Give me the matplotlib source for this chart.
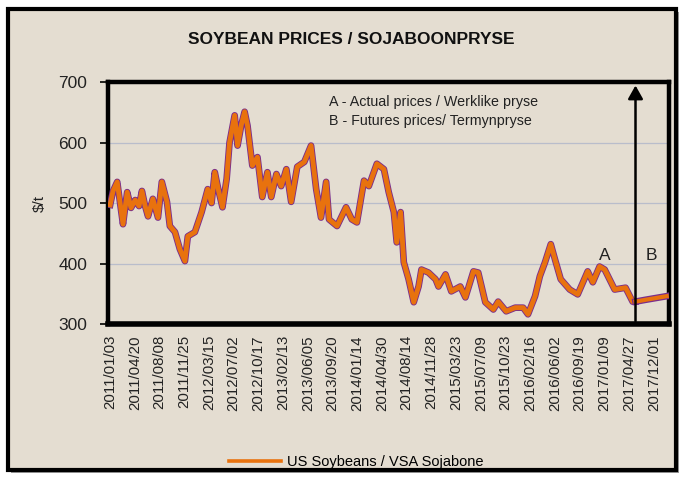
import numpy as np
import matplotlib
matplotlib.use("Agg")
import matplotlib.pyplot as plt
import matplotlib.patheffects as pe
from matplotlib.lines import Line2D
from matplotlib.patches import Rectangle

plt.rcParams["font.family"] = ["Liberation Sans", "DejaVu Sans"]

# ---------------------------------------------------------------------------
# Data (category axis: one step = one observation, 77 observations per label)
# ---------------------------------------------------------------------------
tick_labels = [
    "2011/01/03", "2011/04/20", "2011/08/08", "2011/11/25", "2012/03/15",
    "2012/07/02", "2012/10/17", "2013/02/13", "2013/06/05", "2013/09/20",
    "2014/01/14", "2014/04/30", "2014/08/14", "2014/11/28", "2015/03/23",
    "2015/07/09", "2015/10/23", "2016/02/16", "2016/06/02", "2016/09/19",
    "2017/01/09", "2017/04/27", "2017/12/01",
]
label_step = 77

# A - actual prices ($/t)
actual_obs = [
    0, 9, 22, 31, 40, 53, 65, 78, 90, 99, 109, 118, 133, 149, 161, 177,
    186, 202, 217, 233, 242, 264, 285, 304, 316, 326, 338, 350, 363, 372,
    388, 397, 409, 419, 428, 443, 459, 474, 490, 502, 518, 533, 549, 564,
    583, 605, 626, 642, 657, 673, 682, 707, 735, 753, 769, 791, 806, 831,
    853, 868, 884, 893, 905, 915, 930, 946, 961, 970, 992, 1014, 1023, 1045,
    1063, 1091, 1107, 1132, 1147, 1169, 1194, 1209, 1234, 1262, 1287, 1302,
    1324, 1339, 1355, 1373, 1386, 1404, 1432, 1457, 1488, 1504, 1525, 1541,
    1572, 1606, 1628, 1637,
]
actual_price = [
    497, 520, 535, 500, 465, 518, 492, 505, 495, 520, 495, 478, 507, 476,
    535, 502, 462, 452, 424, 404, 445, 452, 485, 523, 500, 551, 520, 493,
    540, 600, 645, 595, 630, 651, 628, 562, 576, 510, 551, 510, 548, 528,
    556, 502, 560, 568, 595, 523, 476, 535, 473, 462, 493, 473, 468, 537,
    528, 565, 556, 518, 485, 435, 485, 402, 374, 336, 362, 390, 385, 374,
    362, 382, 354, 362, 344, 387, 385, 336, 324, 337, 321, 327, 327, 316,
    346, 379, 402, 432, 407, 374, 357, 349, 387, 369, 395, 390, 357, 360,
    337, 337,
]

# B - futures prices ($/t)
futures_obs = [1637, 1668, 1734]
futures_price = [337, 340, 346]

ORANGE = "#E8720E"
PURPLE = "#7A2E8C"
BEIGE = "#E4DDD1"

# ---------------------------------------------------------------------------
fig = plt.figure(figsize=(6.85, 4.79), dpi=100)
fig.patch.set_facecolor("white")

# outer frame with drop shadow
fig.patches.append(Rectangle((0.016, 0.012), 0.975, 0.962, transform=fig.transFigure,
                             facecolor="#9A9A9A", edgecolor="none", zorder=-10))
fig.patches.append(Rectangle((0.0117, 0.0188), 0.975, 0.962, transform=fig.transFigure,
                             facecolor=BEIGE, edgecolor="black", linewidth=3.0, zorder=-9))

ax = fig.add_axes([0.158, 0.3236, 0.818, 0.505])
ax.set_facecolor("none")

line_fx = [pe.Stroke(linewidth=4.8, foreground=PURPLE), pe.Normal()]
ax.plot(actual_obs, actual_price, color=ORANGE, linewidth=3.5,
        solid_joinstyle="round", path_effects=line_fx, zorder=3)
ax.plot(futures_obs, futures_price, color=ORANGE, linewidth=3.0,
        solid_joinstyle="round", path_effects=line_fx, zorder=3)

ax.set_ylim(300, 700)
ax.set_yticks([300, 400, 500, 600, 700])
ax.set_xlim(-6, 1740)
ax.set_xticks(np.arange(len(tick_labels)) * label_step)
ax.set_xticklabels(tick_labels, rotation=90, fontsize=10.8, color="#222222")
ax.tick_params(axis="x", length=0, pad=8)
ax.tick_params(axis="y", length=6, width=1.2, pad=9, labelsize=12.5,
               labelcolor="#222222", direction="out")

ax.yaxis.grid(True, color="#B9BDCB", linewidth=0.9)
ax.set_axisbelow(True)
for side in ["left", "right", "top", "bottom"]:
    ax.spines[side].set_linewidth(3.2)
    ax.spines[side].set_color("black")
ax.spines["bottom"].set_linewidth(4.0)

ax.set_ylabel("$/t", fontsize=11, color="#222222", labelpad=8)

# split between actual and futures prices
split = futures_obs[0]
ax.annotate("", xy=(split, 699), xytext=(split, 300),
            arrowprops=dict(arrowstyle="-|>,head_length=0.8,head_width=0.45",
                            color="black", linewidth=1.8), zorder=4)
ax.text(0.394, 0.917, "A - Actual prices / Werklike pryse", transform=ax.transAxes,
        fontsize=10.3, color="#222222", va="center")
ax.text(0.394, 0.839, "B - Futures prices/ Termynpryse", transform=ax.transAxes,
        fontsize=10.3, color="#222222", va="center")
ax.text(1540, 413, "A", fontsize=12.5, color="#222222", ha="center", va="center")
ax.text(1688, 413, "B", fontsize=12.5, color="#222222", ha="center", va="center")

fig.text(0.513, 0.918, "SOYBEAN PRICES / SOJABOONPRYSE", ha="center", va="center",
         fontsize=12.5, fontweight="bold", color="#111111")

handle = Line2D([], [], color=ORANGE, linewidth=2.6)
fig.legend([handle], ["US Soybeans / VSA Sojabone"], loc="center",
           bbox_to_anchor=(0.52, 0.035), frameon=False, fontsize=10.5,
           handlelength=3.6, handletextpad=0.4)

fig.savefig("out.png", dpi=100)
